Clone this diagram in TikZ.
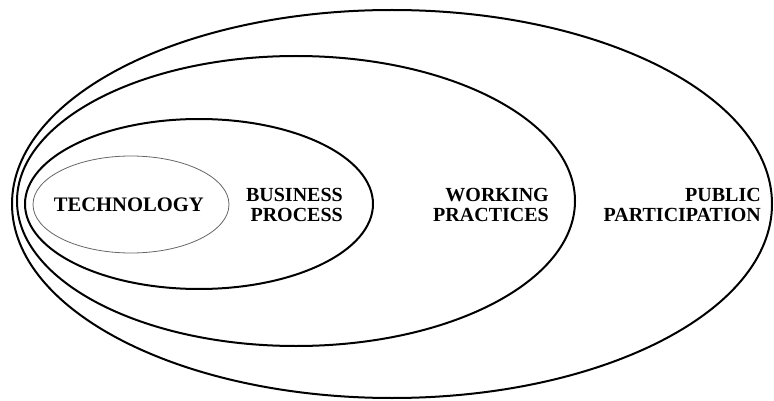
\documentclass[tikz,border=0pt]{standalone}
\usepackage{fontspec}
\setmainfont{Liberation Serif}
\begin{document}
\begin{tikzpicture}[x=1pt,y=-1pt,
  ring/.style={draw=black,line width=2pt},
  core/.style={draw=black!60,line width=0.8pt},
  label/.style={font=\fontsize{20}{20}\selectfont\bfseries,inner sep=0pt,align=right,anchor=east}]
  \useasboundingbox[fill=white] (0,0) rectangle (774,401);
  % nested spheres of change, all touching at the left
  \draw[ring] (392,204) ellipse [x radius=380, y radius=194];
  \draw[ring] (296,201) ellipse [x radius=279, y radius=145];
  \draw[ring] (199,204) ellipse [x radius=174, y radius=85];
  \draw[core] (131,204.5) ellipse [x radius=98, y radius=48.5];
  % labels
  \node[label,font=\fontsize{20.6}{20}\selectfont\bfseries] (tech) at (204,205) {TECHNOLOGY};
  \node[label] (biz) at (343,205) {BUSINESS\\PROCESS};
  \node[label] (work) at (549,205) {WORKING\\PRACTICES};
  \node[label] (pub) at (761,205) {PUBLIC\\PARTICIPATION};
\end{tikzpicture}
\end{document}
